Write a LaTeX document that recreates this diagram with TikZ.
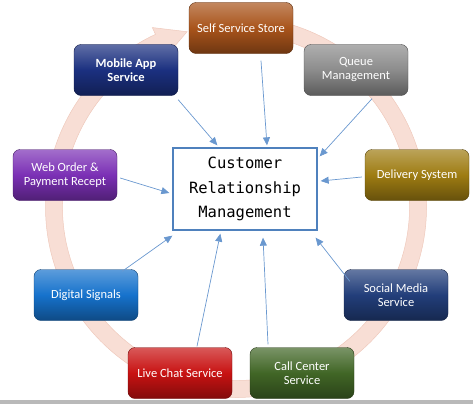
\documentclass[tikz,border=0pt]{standalone}
\usepackage{fontspec}
\setmainfont{Carlito}
\newfontfamily\crmfont{DejaVu Sans Mono}
\usetikzlibrary{arrows.meta}
\definecolor{ringfill}{HTML}{F8DED5}
\definecolor{ringline}{HTML}{EFC9BC}
\definecolor{crmblue}{HTML}{4F81BD}
\definecolor{linkblue}{HTML}{6A98CF}
\definecolor{storebrown}{HTML}{A9541B}
\definecolor{queuegray}{HTML}{8C8C8C}
\definecolor{appnavy}{HTML}{1B3080}
\definecolor{webpurple}{HTML}{7B30B5}
\definecolor{deliverygold}{HTML}{9E7C12}
\definecolor{signalblue}{HTML}{1672CC}
\definecolor{socialnavy}{HTML}{223E7A}
\definecolor{chatred}{HTML}{C81212}
\definecolor{callgreen}{HTML}{416626}

\begin{document}
\begin{tikzpicture}[x=1pt,y=-1pt,
  svc/.style={rounded corners=7pt, minimum width=104pt, minimum height=51pt,
    align=center, text=white, font=\fontsize{12.5}{14}\selectfont,
    draw=#1!55!black, top color=#1!70!white, bottom color=#1!65!black, middle color=#1},
  link/.style={draw=linkblue, line width=0.7pt, -{Triangle[length=8pt,width=7pt]}}]
  \useasboundingbox (0,0) rectangle (473,404);

  % circular arrow behind the boxes
  \begin{scope}[shift={(236,207)}, y=1pt]
    \filldraw[fill=ringfill, draw=ringline, line width=0.5pt]
      (95:190.5) arc[start angle=95, end angle=-245, radius=190.5]
      -- (-245:198) -- (-254.4:182) -- (-245:166) -- (-245:173.5)
      arc[start angle=-245, end angle=95, radius=173.5] -- cycle;
  \end{scope}

  \node[draw=crmblue, line width=1.3pt, fill=white, minimum width=144pt, minimum height=82pt,
    align=center, font=\crmfont\fontsize{15.5}{24.5}\selectfont] (crm) at (245,189)
    {Customer\\Relationship\\Management};

  \node[svc=storebrown] (store) at (241,28) {Self Service Store};
  \node[svc=queuegray] (queue) at (356,70) {Queue\\Management};
  \node[svc=appnavy, font=\bfseries\fontsize{12.5}{14}\selectfont] (app) at (126,70) {Mobile App\\Service};
  \node[svc=webpurple] (web) at (65,175) {Web Order \&\\Payment Recept};
  \node[svc=deliverygold] (delivery) at (417,175) {Delivery System};
  \node[svc=signalblue] (signals) at (86,295) {Digital Signals};
  \node[svc=socialnavy] (social) at (396,295) {Social Media\\Service};
  \node[svc=chatred] (chat) at (180,373) {Live Chat Service};
  \node[svc=callgreen] (call) at (302,373) {Call Center\\Service};

  \draw[link] ([xshift=20pt,yshift=-7pt]store.south) -- ([xshift=22pt,yshift=2pt]crm.north);
  \draw[link] ([yshift=-4pt]app.south east) -- ([xshift=45pt,yshift=2pt]crm.north west);
  \draw[link] ([xshift=16pt,yshift=-3pt]queue.south) -- ([xshift=2pt,yshift=-9pt]crm.north east);
  \draw[link] ([xshift=-3pt,yshift=-2pt]delivery.west) -- ([xshift=3pt,yshift=8pt]crm.east);
  \draw[link] ([xshift=3pt,yshift=-3pt]web.east) -- ([xshift=-3pt,yshift=-4pt]crm.west);
  \draw[link] ([xshift=-16pt,yshift=-2pt]signals.north east) -- ([yshift=-5pt]crm.south west);
  \draw[link] ([xshift=17pt,yshift=1pt]chat.north) -- ([xshift=48pt,yshift=-3pt]crm.south west);
  \draw[link] ([xshift=-34pt,yshift=3pt]call.north) -- ([xshift=18pt,yshift=-7pt]crm.south);
  \draw[link] ([xshift=6pt,yshift=-12pt]social.north west) -- ([xshift=-2pt,yshift=-7pt]crm.south east);

  \fill[gray!55] (0,400) rectangle (473,404);
\end{tikzpicture}
\end{document}
